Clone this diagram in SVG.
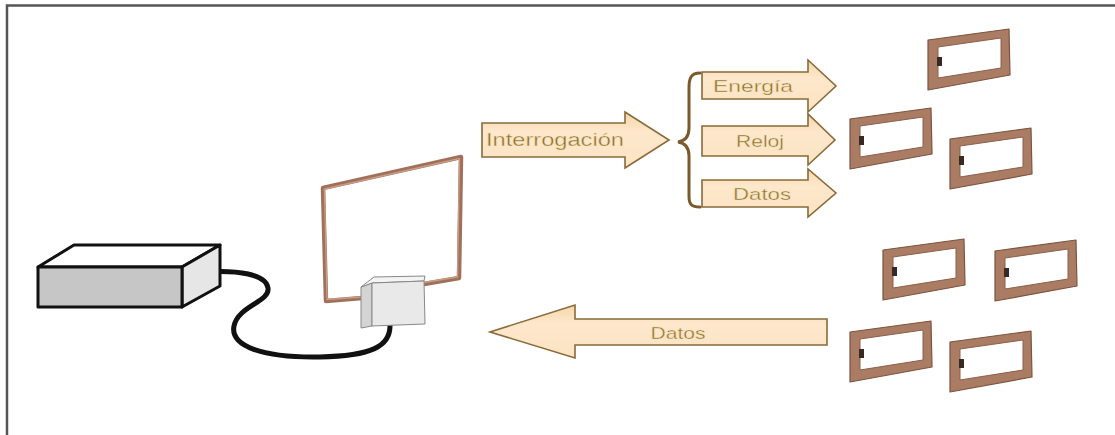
<svg xmlns="http://www.w3.org/2000/svg" width="1115" height="435" viewBox="0 0 1115 435">
  <style>
    .frame { fill: none; stroke: #555; stroke-width: 2.5; }
    .box { stroke: #111; stroke-width: 3; stroke-linejoin: round; }
    .coil { fill: none; stroke: #a0705a; stroke-width: 4.5; stroke-linejoin: round; stroke-linecap: round; }
    .coil-hi { fill: none; stroke: #c99c84; stroke-width: 1.3; stroke-linejoin: round; }
    .reader { stroke: #888; stroke-width: 1; stroke-linejoin: round; }
    .cable { fill: none; stroke: #111; stroke-width: 5; stroke-linecap: round; }
    .arrow { fill: url(#peach); stroke: #8a6a3a; stroke-width: 1.6; stroke-linejoin: miter; }
    .brace { fill: none; stroke: #7a5a2a; stroke-width: 3; stroke-linecap: round; }
    .label { font-family: "Liberation Sans", Arial, sans-serif; fill: #8a6d2e; stroke: #f6e2b8; stroke-width: 0.4; text-anchor: middle; dominant-baseline: central; }
    .tag-outer { fill: #a97c63; stroke: #7d543f; stroke-width: 1.2; stroke-linejoin: round; }
    .tag-inner { fill: #fff; stroke: #8c604a; stroke-width: 1; }
    .chip { fill: #3a2822; }
  </style>
  <defs>
    <linearGradient id="peach" x1="0" y1="0" x2="0" y2="1">
      <stop offset="0" stop-color="#f5d6a8"/>
      <stop offset="0.35" stop-color="#fde8cc"/>
      <stop offset="1" stop-color="#fce3c2"/>
    </linearGradient>
    <!-- transponder tag: copper frame with window and chip -->
    <g id="tag">
      <path class="tag-outer" d="M0,0 L81,-11 L82,35 L0,50 Z"/>
      <path class="tag-inner" d="M10,7 L73,-2 L73,28 L10,38 Z"/>
      <rect class="chip" x="9" y="17" width="5" height="9"/>
    </g>
  </defs>

  <rect width="1115" height="435" fill="#fff"/>
  <path class="frame" d="M7,435 L7,5.5 L1115,5.5"/>

  <g id="connectors">
    <path id="cable" class="cable" d="M205,272 C238,270 266,274 268,288 C270,302 238,306 234,326 C230,346 262,358 320,357 C372,356 390,346 390,326"/>
    <path id="brace" class="brace" d="M700,73 C691,73 689,78 689,88 L689,128 C689,137 685,141 678,142 C685,143 689,147 689,156 L689,196 C689,204 691,207 700,207"/>
  </g>

  <g id="reader-unit">
    <path class="box" fill="#fff" d="M38,267 L74,245 L220,245 L182,267 Z"/>
    <path class="box" fill="#e6e6e6" d="M182,267 L220,245 L220,286 L182,307 Z"/>
    <rect class="box" x="38" y="267" width="144" height="40" fill="#c6c6c6"/>
  </g>

  <g id="antenna">
    <path class="coil" d="M362,298 L326,301 L323,188 L461,157 L459,278 L424,284"/>
    <path class="coil-hi" d="M362,297 L327,299.5 L324.5,189 L459.5,158.5 L457.5,277 L424,282.5"/>
    <path class="reader" fill="#d4d4d4" d="M361,287 L372,283 L372,326 L361,328 Z"/>
    <path class="reader" fill="#f4f4f4" d="M361,287 L374,277 L425,276 L424,281 L372,283 Z"/>
    <path class="reader" fill="#e9e9e9" d="M372,283 L424,281 L425,324 L372,326 Z"/>
  </g>

  <g id="interrogation">
    <path class="arrow" d="M482,123 L625,123 L625,112 L669,140 L625,168 L625,157 L482,157 Z"/>
    <text class="label" x="555" y="140" font-size="18" textLength="138" lengthAdjust="spacingAndGlyphs">Interrogación</text>
  </g>

  <g id="energy">
    <path class="arrow" d="M702,72 L808,72 L808,60 L836,86 L808,112 L808,99 L702,99 Z"/>
    <text class="label" x="753" y="86" font-size="16" textLength="80" lengthAdjust="spacingAndGlyphs">Energía</text>
  </g>

  <g id="clock">
    <path class="arrow" d="M702,126 L808,126 L808,114 L835,140 L808,165 L808,156 L702,156 Z"/>
    <text class="label" x="760" y="141" font-size="16" textLength="48" lengthAdjust="spacingAndGlyphs">Reloj</text>
  </g>

  <g id="data-out">
    <path class="arrow" d="M702,180 L808,180 L808,169 L836,193 L808,217 L808,207 L702,207 Z"/>
    <text class="label" x="762" y="194" font-size="16" textLength="58" lengthAdjust="spacingAndGlyphs">Datos</text>
  </g>

  <g id="data-in">
    <path class="arrow" d="M827,319 L575,319 L575,305 L490,332 L575,358 L575,345 L827,345 Z"/>
    <text class="label" x="678" y="333" font-size="16" textLength="55" lengthAdjust="spacingAndGlyphs">Datos</text>
  </g>

  <g id="tags-upper">
    <use id="tag-1" href="#tag" x="928" y="40"/>
    <use id="tag-2" href="#tag" x="850" y="119"/>
    <use id="tag-3" href="#tag" x="950" y="139"/>
  </g>

  <g id="tags-lower">
    <use id="tag-4" href="#tag" x="883" y="250"/>
    <use id="tag-5" href="#tag" x="995" y="251"/>
    <use id="tag-6" href="#tag" x="850" y="332"/>
    <use id="tag-7" href="#tag" x="950" y="342"/>
  </g>
</svg>
